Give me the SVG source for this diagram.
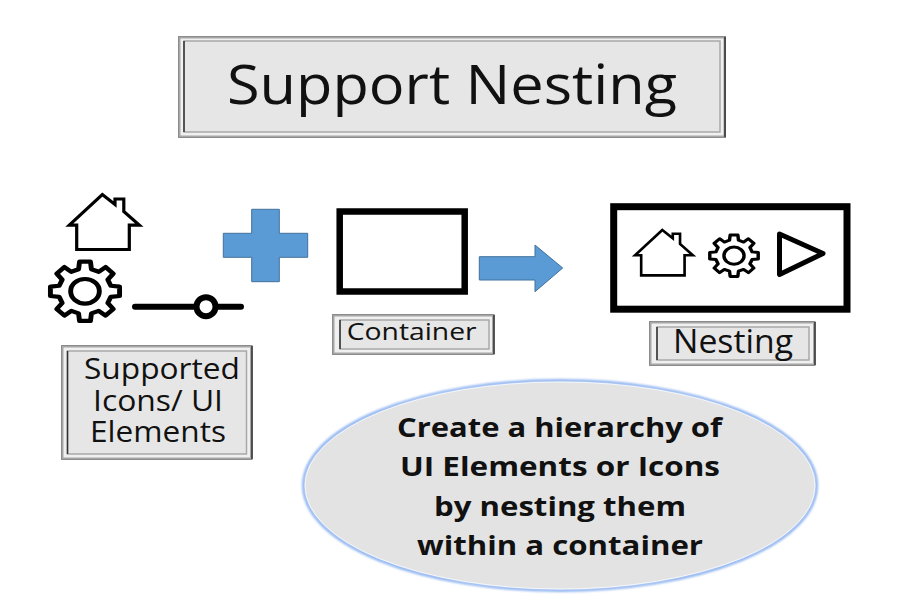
<svg xmlns="http://www.w3.org/2000/svg" xmlns:xlink="http://www.w3.org/1999/xlink" width="900" height="600" viewBox="0 0 900 600">
<style>
text{font-family:"Open Sans","Noto Sans","Liberation Sans",sans-serif;fill:#111}
.o{fill:#a6a6a6;stroke:#8c8c8c;stroke-width:1}
.b{fill:#f0f0f0;stroke:none}
.m{fill:#e6e6e6;stroke:#a8a8a8;stroke-width:1.5}
.d{stroke:#333;stroke-width:1.5;fill:none}
.blue{fill:#5b9bd5;stroke:#41719c;stroke-width:1}
.box{fill:#fff;stroke:#000}
.ic{fill:none;stroke:#000;stroke-linejoin:miter}
</style>
<defs>
<path id="house" class="ic" stroke-width="3.2" d="M0,0L12.7,10V4.5H21.5V17L37,30.6H27V55H-25.6V30.6H-33Z"/>
<g id="gear" class="ic" stroke-width="1.4">
<path stroke-linejoin="round" d="M7.37,-1.84L9.88,-1.56L9.88,1.56L7.37,1.84L6.51,3.91L8.09,5.88L5.88,8.09L3.91,6.51L1.84,7.37L1.56,9.88L-1.56,9.88L-1.84,7.37L-3.91,6.51L-5.88,8.09L-8.09,5.88L-6.51,3.91L-7.37,1.84L-9.88,1.56L-9.88,-1.56L-7.37,-1.84L-6.51,-3.91L-8.09,-5.88L-5.88,-8.09L-3.91,-6.51L-1.84,-7.37L-1.56,-9.88L1.56,-9.88L1.84,-7.37L3.91,-6.51L5.88,-8.09L8.09,-5.88L6.51,-3.91Z"/>
<circle r="4.1"/>
</g>
<filter id="glow" x="-5%" y="-5%" width="110%" height="110%"><feGaussianBlur stdDeviation="1"/></filter>
</defs>
<g id="connectors"></g>
<g id="title">
<rect class="o" x="178.5" y="36.5" width="547" height="101"/>
<rect class="b" x="180.5" y="38.5" width="543" height="97"/>
<rect class="m" x="184" y="41" width="536" height="91"/>
<path class="d" d="M184,41V132M725,37V137"/>
<text x="227" y="104" font-size="54" textLength="450" lengthAdjust="spacingAndGlyphs">Support Nesting</text>
</g>
<g id="icons">
<use href="#house" xlink:href="#house" transform="translate(102.3,194.5)"/>
<use href="#gear" xlink:href="#gear" transform="translate(85,291.3) scale(3.5,3)"/>
<path d="M135,306.7H241" stroke="#000" stroke-width="6" stroke-linecap="round" fill="none"/>
<circle cx="206" cy="306.7" r="9.5" fill="#fff" stroke="#000" stroke-width="6"/>
</g>
<g id="supported">
<rect class="o" x="61.5" y="345.5" width="190.5" height="114"/>
<rect class="b" x="63.5" y="347.5" width="186.5" height="110"/>
<rect class="m" x="67.5" y="351" width="179" height="103"/>
<path class="d" d="M67.5,351V454M252,346V459"/>
<text x="84" y="379" font-size="29" textLength="156" lengthAdjust="spacingAndGlyphs">Supported</text>
<text x="93" y="410.7" font-size="29" textLength="130" lengthAdjust="spacingAndGlyphs">Icons/ UI</text>
<text x="90" y="441.7" font-size="29" textLength="136" lengthAdjust="spacingAndGlyphs">Elements</text>
</g>
<g id="plus"><path class="blue" d="M251.7,209.3H279.3V233.3H307.7V257.3H279.3V281.7H251.7V257.3H223.3V233.3H251.7Z"/></g>
<g id="container"><rect class="box" x="339.7" y="211.5" width="125" height="80" stroke-width="6.5"/></g>
<g id="container-label">
<rect class="o" x="332.5" y="314.5" width="161.5" height="40"/>
<rect class="b" x="334.5" y="316.5" width="157.5" height="36"/>
<rect class="m" x="340" y="320" width="149" height="29"/>
<path class="d" d="M340,320V349M494,315V354"/>
<text x="346.7" y="340" font-size="23.5" textLength="130" lengthAdjust="spacingAndGlyphs">Container</text>
</g>
<g id="arrow"><path class="blue" d="M479.3,256.7H535V245L562.7,268L535,291.7V280H479.3Z"/></g>
<g id="nesting">
<rect class="box" x="613.7" y="206.7" width="233.3" height="102.5" stroke-width="7"/>
<use href="#house" xlink:href="#house" transform="translate(662.3,230) scale(.825)"/>
<use href="#gear" xlink:href="#gear" transform="translate(734,255.7) scale(2.45,2.1)"/>
<path d="M779.5,234L823,253.5L779.5,274.5Z" fill="none" stroke="#000" stroke-width="5" stroke-linejoin="round"/>
</g>
<g id="nesting-label">
<rect class="o" x="649.5" y="321.5" width="165.5" height="44"/>
<rect class="b" x="651.5" y="323.5" width="161.5" height="40"/>
<rect class="m" x="657" y="327" width="152" height="33"/>
<path class="d" d="M657,327V360M815,322V365"/>
<text x="673" y="352.7" font-size="33" textLength="120" lengthAdjust="spacingAndGlyphs">Nesting</text>
</g>
<g id="note">
<ellipse cx="560" cy="485.5" rx="256.5" ry="105" fill="none" stroke="#8fb4f0" stroke-width="3" filter="url(#glow)"/>
<ellipse cx="560" cy="485.5" rx="255" ry="103.5" fill="#e3e3e3" stroke="#f4f6fa" stroke-width="1"/>
<text x="397" y="437" font-size="27.5" font-weight="700" textLength="325" lengthAdjust="spacingAndGlyphs">Create a hierarchy of</text>
<text x="400" y="476" font-size="27.5" font-weight="700" textLength="320" lengthAdjust="spacingAndGlyphs">UI Elements or Icons</text>
<text x="434" y="516" font-size="27.5" font-weight="700" textLength="252" lengthAdjust="spacingAndGlyphs">by nesting them</text>
<text x="417" y="555" font-size="27.5" font-weight="700" textLength="286" lengthAdjust="spacingAndGlyphs">within a container</text>
</g>
</svg>
